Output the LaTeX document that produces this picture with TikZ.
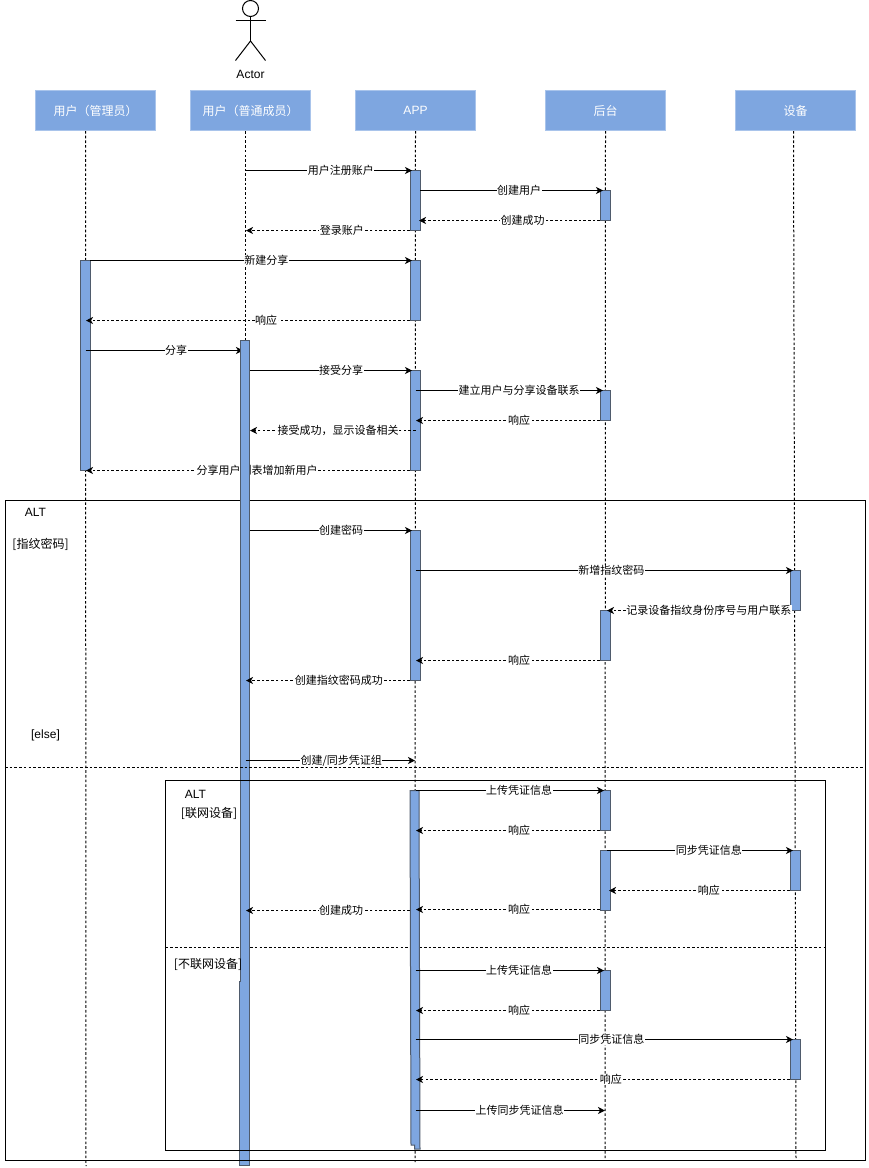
\documentclass[tikz,border=0pt]{standalone}
\usepackage{fontspec}
\usepackage{xcolor}
\setmainfont{Liberation Sans}
\newfontfamily\cjk{Noto Sans CJK SC}
\definecolor{headfill}{HTML}{7EA6E0}
\definecolor{headline}{HTML}{A9C4EB}
\definecolor{barline}{HTML}{4F5B6C}
\usetikzlibrary{positioning,calc,arrows.meta}

\begin{document}
\begin{tikzpicture}[x=1pt, y=-1pt, line width=1pt,
    head/.style={rectangle, draw=headline, fill=headfill, text=white, font=\cjk\fontsize{12pt}{14pt}\selectfont, minimum width=120pt, minimum height=40pt, inner sep=0pt},
    bar/.style={rectangle, draw=barline, fill=headfill, minimum width=9.5pt, inner sep=0pt},
    frame/.style={rectangle, draw=black, inner sep=0pt},
    life/.style={dash pattern=on 2.6pt off 2.1pt},
    divline/.style={dash pattern=on 2.6pt off 2.1pt},
    msg/.style={-{Stealth[length=7pt,width=7pt,inset=2pt]}},
    back/.style={msg, dash pattern=on 2.6pt off 2.1pt},
    lab/.style={fill=white, text=black, font=\cjk\fontsize{11pt}{13pt}\selectfont, inner sep=0.5pt, solid},
    txt/.style={inner sep=0pt, font=\fontsize{12pt}{14pt}\selectfont},
    cjktxt/.style={inner sep=0pt, font=\cjk\fontsize{12pt}{14pt}\selectfont}]
    \useasboundingbox (0,0) rectangle (868,1168);

    \node [circle, draw, minimum size=16pt, inner sep=0pt] (actorhead) at (250.5,8.5) {};
    \coordinate (actorarml) at (235.5,20.5);
    \coordinate (actorarmr) at (265.5,20.5);
    \coordinate (actorhip) at (250.5,41);
    \coordinate (actorfootl) at (235.5,60.5);
    \coordinate (actorfootr) at (265.5,60.5);
    \draw (actorhead.south) -- (actorhip);
    \draw (actorarml) -- (actorarmr);
    \draw (actorfootl) -- (actorhip) -- (actorfootr);
    \node [txt] (actorname) at (250.5,74) {Actor};

    \node [head] (admin) at (95.5,110.5) {用户（管理员）};
    \node [head] (member) at (250.5,110.5) {用户（普通成员）};
    \node [head, font=\fontsize{12pt}{14pt}\selectfont] (app) at (415.5,110.5) {APP};
    \node [head] (server) at (605.5,110.5) {后台};
    \node [head] (device) at (795.5,110.5) {设备};

    \coordinate (adminlifetop) at (85.5,131);
    \coordinate (adminlifeend) at (86,1166);
    \coordinate (memberlifetop) at (245.5,131);
    \coordinate (memberlifeend) at (245.5,340);
    \coordinate (applifeend) at (415,1162);
    \coordinate (serverlifeend) at (605,1160);
    \coordinate (devicelifetop) at (793.5,131);
    \coordinate (devicelifeend) at (796,1160);
    \draw [life] (adminlifetop) -- (adminlifeend);
    \draw [life] (memberlifetop) -- (memberlifeend);
    \draw [life] (app.south) -- (applifeend);
    \draw [life] (server.south) -- (serverlifeend);
    \draw [life] (devicelifetop) -- (devicelifeend);

    \node [bar, minimum width=10.5pt, minimum height=184pt] (memberbarb) at (244.7,1073) {};
    \node [frame, minimum width=860pt, minimum height=660pt] (altouter) at (435.5,830.5) {};
    \coordinate (innerdivl) at (165.5,947.5);
    \coordinate (innerdivr) at (825.5,947.5);
    \draw [divline] (innerdivl) -- (innerdivr);

    \node [txt] (altone) at (35.5,512.5) {ALT};
    \node [cjktxt] (fingercase) at (40.5,544.5) {[指纹密码]};
    \node [txt] (elsecase) at (45.5,735) {[else]};
    \node [txt] (alttwo) at (195.5,794.5) {ALT};
    \node [cjktxt] (onlinecase) at (209,813.5) {[联网设备]};

    \node [bar, minimum height=210pt] (adminbar) at (85.5,365.5) {};
    \node [bar, minimum height=60pt] (appbara) at (415.5,200.5) {};
    \node [bar, minimum height=60pt] (appbarb) at (415.5,290.5) {};
    \node [bar, minimum height=100pt] (appbarc) at (415.5,420.5) {};
    \node [bar, minimum height=150pt] (appbard) at (415.5,605.5) {};
    \draw [draw=barline, fill=headfill] (410,790.5) -- (419,790.5) -- (420,1149) -- (414.5,1149) -- (414.5,1145) -- (411,1145) -- cycle;
    \node [bar, minimum height=30pt] (serverbara) at (605.5,205.5) {};
    \node [bar, minimum height=30pt] (serverbarb) at (605.5,405.5) {};
    \node [bar, minimum height=50pt] (serverbarc) at (605.5,635.5) {};
    \node [bar, minimum height=40pt] (serverbard) at (605.5,810.5) {};
    \node [bar, minimum height=60pt] (serverbare) at (605.5,880.5) {};
    \node [bar, minimum height=40pt] (serverbarf) at (605.5,990.5) {};
    \node [bar, minimum height=40pt] (devicebara) at (795.5,590.5) {};
    \node [bar, minimum height=40pt] (devicebarb) at (795.5,870.5) {};
    \node [bar, minimum height=40pt] (devicebarc) at (795.5,1059.5) {};

    \coordinate (ma1) at (245.5,170.5); \coordinate (mb1) at (412,170.5);
    \coordinate (ma2) at (420,190.5); \coordinate (mb2) at (603,190.5);
    \coordinate (ma3) at (600,220.5); \coordinate (mb3) at (419,220.5);
    \coordinate (ma4) at (410,230.5); \coordinate (mb4) at (246,230.5);
    \coordinate (ma5) at (90,260.5); \coordinate (mb5) at (412,260.5);
    \coordinate (ma6) at (410,320.5); \coordinate (mb6) at (86,320.5);
    \coordinate (ma7) at (85.5,350.5); \coordinate (mb7) at (243,350.5);
    \coordinate (ma8) at (250,370.5); \coordinate (mb8) at (412,370.5);
    \coordinate (ma9) at (415.5,390.5); \coordinate (mb9) at (603,390.5);
    \coordinate (ma10) at (600,420.5); \coordinate (mb10) at (416,420.5);
    \coordinate (ma11) at (415.5,430.5); \coordinate (mb11) at (250,430.5);
    \coordinate (ma12) at (410,470.5); \coordinate (mb12) at (86,470.5);

    \draw [msg] (ma1) -- node [lab, pos=.573] {用户注册账户} (mb1);
    \draw [msg] (ma2) -- node [lab, pos=.541] {创建用户} (mb2);
    \draw [back] (ma3) -- node [lab, pos=.428] {创建成功} (mb3);
    \draw [back] (ma4) -- node [lab, pos=.415] {登录账户} (mb4);
    \draw [msg] (ma5) -- node [lab, pos=.548] {新建分享} (mb5);
    \draw [back] (ma6) -- node [lab, pos=.444] {响应} (mb6);
    \draw [msg] (ma7) -- node [lab, pos=.576] {分享} (mb7);
    \draw [msg] (ma8) -- node [lab, pos=.562] {接受分享} (mb8);
    \draw [msg] (ma9) -- node [lab, pos=.552] {建立用户与分享设备联系} (mb9);
    \draw [back] (ma10) -- node [lab, pos=.44] {响应} (mb10);
    \draw [back] (ma11) -- node [lab, pos=.467] {接受成功，显示设备相关} (mb11);
    \draw [back] (ma12) -- node [lab, pos=.472] {分享用户列表增加新用户} (mb12);

    \node [bar, draw=none, outer sep=0pt, minimum height=642pt] (memberbara) at (245.2,661) {};
    \draw [barline] (memberbara.south west) -- (memberbara.north west) -- (memberbara.north east) -- (memberbara.south east);
    \node [cjktxt] (offlinecase) at (208,964.5) {[不联网设备]};

    \draw [divline] (altouter.west |- 0,767) -- (altouter.east |- 0,767);
    \node [frame, minimum width=660pt, minimum height=370pt] (altinner) at (495.5,965.5) {};

    \coordinate (ma13) at (250,530.5); \coordinate (mb13) at (412,530.5);
    \coordinate (ma14) at (415.5,570.5); \coordinate (mb14) at (793,570.5);
    \coordinate (ma15) at (790,610.5); \coordinate (mb15) at (607,610.5);
    \coordinate (ma16) at (600,660.5); \coordinate (mb16) at (416,660.5);
    \coordinate (ma17) at (410,680.5); \coordinate (mb17) at (246,680.5);
    \coordinate (ma18) at (245.5,760.5); \coordinate (mb18) at (415,760.5);
    \coordinate (ma19) at (415.5,790.5); \coordinate (mb19) at (604,790.5);
    \coordinate (ma20) at (600,830.5); \coordinate (mb20) at (416,830.5);
    \coordinate (ma21) at (607,850.5); \coordinate (mb21) at (793,850.5);
    \coordinate (ma22) at (790,890.5); \coordinate (mb22) at (609,890.5);
    \coordinate (ma23) at (600,909.5); \coordinate (mb23) at (416,909.5);
    \coordinate (ma24) at (410,910.5); \coordinate (mb24) at (246,910.5);
    \coordinate (ma25) at (415.5,970.5); \coordinate (mb25) at (604,970.5);
    \coordinate (ma26) at (600,1010.5); \coordinate (mb26) at (416,1010.5);
    \coordinate (ma27) at (415.5,1039.5); \coordinate (mb27) at (793,1039.5);
    \coordinate (ma28) at (790,1079.5); \coordinate (mb28) at (416,1079.5);
    \coordinate (ma29) at (415.5,1110.5); \coordinate (mb29) at (605,1110.5);

    \draw [msg] (ma13) -- node [lab, pos=.562] {创建密码} (mb13);
    \draw [msg] (ma14) -- node [lab, pos=.519] {新增指纹密码} (mb14);
    \draw [back] (ma15) -- node [lab, pos=.443] {记录设备指纹身份序号与用户联系} (mb15);
    \draw [back] (ma16) -- node [lab, pos=.44] {响应} (mb16);
    \draw [back] (ma17) -- node [lab, pos=.433] {创建指纹密码成功} (mb17);
    \draw [msg] (ma18) -- node [lab, pos=.565] {创建/同步凭证组} (mb18);
    \draw [msg] (ma19) -- node [lab, pos=.55] {上传凭证信息} (mb19);
    \draw [back] (ma20) -- node [lab, pos=.44] {响应} (mb20);
    \draw [msg] (ma21) -- node [lab, pos=.548] {同步凭证信息} (mb21);
    \draw [back] (ma22) -- node [lab, pos=.448] {响应} (mb22);
    \draw [back] (ma23) -- node [lab, pos=.44] {响应} (mb23);
    \draw [back] (ma24) -- node [lab, pos=.42] {创建成功} (mb24);
    \draw [msg] (ma25) -- node [lab, pos=.55] {上传凭证信息} (mb25);
    \draw [back] (ma26) -- node [lab, pos=.44] {响应} (mb26);
    \draw [msg] (ma27) -- node [lab, pos=.519] {同步凭证信息} (mb27);
    \draw [back] (ma28) -- node [lab, pos=.479] {响应} (mb28);
    \draw [msg] (ma29) -- node [lab, pos=.55] {上传同步凭证信息} (mb29);
\end{tikzpicture}
\end{document}
